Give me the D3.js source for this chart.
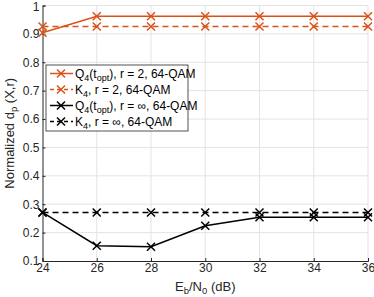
<!DOCTYPE html>
<html>
<head>
<meta charset="utf-8">
<script src="https://cdn.jsdelivr.net/npm/d3@7"></script>
<style>
  body { margin: 0; background: #fff; }
  text { font-family: "Liberation Sans", Arial, sans-serif; }
</style>
</head>
<body>
<div id="chart"></div>
<script>
// data
const ebno = [24, 26, 28, 30, 32, 34, 36];
const q4_r2 = [0.904, 0.962, 0.962, 0.962, 0.962, 0.962, 0.962];
const k4_r2 = [0.926, 0.926, 0.926, 0.926, 0.926, 0.926, 0.926];
const q4_rinf = [0.271, 0.154, 0.150, 0.224, 0.254, 0.254, 0.254];
const k4_rinf = [0.271, 0.271, 0.271, 0.271, 0.271, 0.271, 0.271];
const xTicks = [24, 26, 28, 30, 32, 34, 36];
const yTicks = [0.1, 0.2, 0.3, 0.4, 0.5, 0.6, 0.7, 0.8, 0.9, 1];

const width = 374, height = 297;
const orange = "#D95319", black = "#000";

let svg = d3.select("#chart").append("svg")
    .attr("width", width)
    .attr("height", height);

let x = d3.scaleLinear().domain([24, 36]).range([42.5, 368]);
let y = d3.scaleLinear().domain([0.1, 1]).range([261, 5.5]);

// grid
let grid = svg.append("g");
grid.selectAll("line.vx").data(xTicks.slice(1)).enter().append("line")
    .attr("x1", d => x(d)).attr("x2", d => x(d))
    .attr("y1", y(0.1)).attr("y2", y(1))
    .attr("stroke", "#e3e3e3").attr("stroke-width", 1);
grid.selectAll("line.hy").data(yTicks.slice(1)).enter().append("line")
    .attr("x1", x(24)).attr("x2", x(36))
    .attr("y1", d => y(d)).attr("y2", d => y(d))
    .attr("stroke", "#e3e3e3").attr("stroke-width", 1);

// axes
let xAxis = svg.append("g")
    .attr("transform", `translate(0, ${y(0.1)})`)
    .call(d3.axisBottom(x).tickValues(xTicks).tickSize(-3).tickPadding(2.5).tickFormat(d3.format("d")));
let yAxis = svg.append("g")
    .attr("transform", `translate(${x(24)}, 0)`)
    .call(d3.axisLeft(y).tickValues(yTicks).tickSize(-3).tickPadding(3).tickFormat(d => d === 1 ? "1" : d3.format(".1f")(d)));
[xAxis, yAxis].forEach(a => {
    a.select(".domain").attr("stroke", "#262626");
    a.selectAll(".tick line").attr("stroke", "#262626");
    a.selectAll(".tick text").attr("fill", "#262626").style("font-size", "12px");
});
// keep the top "1" inside the picture
yAxis.selectAll(".tick text").filter(d => d === 1).attr("dy", "0.42em");

// series
const series = [
    {vals: q4_r2, color: orange, dash: null},
    {vals: k4_r2, color: orange, dash: "6,4"},
    {vals: q4_rinf, color: black, dash: null},
    {vals: k4_rinf, color: black, dash: "6,4"}
];

let line = d3.line().x((d, i) => x(ebno[i])).y(d => y(d));

function cross(g, cx, cy, color) {
    const s = 4;
    g.append("path")
        .attr("d", `M${cx - s},${cy - s}L${cx + s},${cy + s}M${cx - s},${cy + s}L${cx + s},${cy - s}`)
        .attr("stroke", color).attr("stroke-width", 1.5).attr("fill", "none");
}

let plot = svg.append("g");
series.forEach(s => {
    plot.append("path")
        .datum(s.vals)
        .attr("d", line)
        .attr("fill", "none")
        .attr("stroke", s.color)
        .attr("stroke-width", 1.5)
        .attr("stroke-dasharray", s.dash);
    s.vals.forEach((v, i) => cross(plot, x(ebno[i]), y(v), s.color));
});

// legend
let lg = svg.append("g").attr("transform", "translate(46, 65)");
lg.append("rect").attr("width", 142).attr("height", 66)
    .attr("fill", "#fff").attr("stroke", "#262626").attr("stroke-width", 0.8);
const labels = [
    ["Q", "4", "(t", "opt", "), r = 2, 64-QAM"],
    ["K", "4", ", r = 2, 64-QAM"],
    ["Q", "4", "(t", "opt", "), r = \u221E, 64-QAM"],
    ["K", "4", ", r = \u221E, 64-QAM"]
];
series.forEach((s, i) => {
    let ly = 8.5 + i * 16;
    lg.append("line").attr("x1", 4).attr("x2", 27).attr("y1", ly).attr("y2", ly)
        .attr("stroke", s.color).attr("stroke-width", 1.5).attr("stroke-dasharray", s.dash ? "4,3" : null);
    cross(lg, 15, ly, s.color);
    let t = lg.append("text").attr("x", 29).attr("y", ly + 4)
        .style("font-size", "12px").attr("fill", "#000");
    labels[i].forEach((part, j) => {
        let sp = t.append("tspan").text(part);
        if (j === 1 || j === 3) sp.attr("dy", 3).style("font-size", "9px");
        else if (j > 0) sp.attr("dy", -3);
    });
});

// axis labels
let xl = svg.append("text")
    .attr("x", x(30)).attr("y", 291)
    .attr("text-anchor", "middle").style("font-size", "13px").attr("fill", "#262626");
xl.append("tspan").text("E");
xl.append("tspan").text("b").attr("dy", 3).style("font-size", "9.5px");
xl.append("tspan").text("/N").attr("dy", -3);
xl.append("tspan").text("0").attr("dy", 3).style("font-size", "9.5px");
xl.append("tspan").text(" (dB)").attr("dy", -3);

let yl = svg.append("text")
    .attr("transform", `translate(14, ${y(0.55)}) rotate(-90)`)
    .attr("text-anchor", "middle").style("font-size", "13px").attr("fill", "#262626");
yl.append("tspan").text("Normalized d");
yl.append("tspan").text("p").attr("dy", 3).style("font-size", "9.5px");
yl.append("tspan").text(" (X,r)").attr("dy", -3);
</script>
</body>
</html>
